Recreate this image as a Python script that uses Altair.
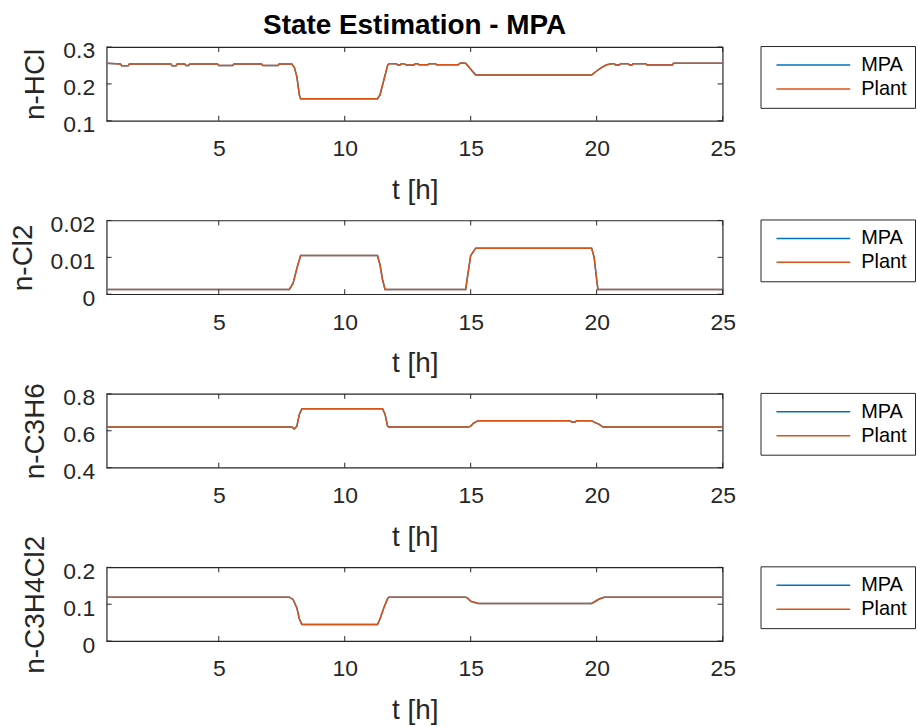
import altair as alt
import pandas as pd

# ---- data: time [h] and state trajectories (breakpoints of the sampled signals) ----
t_hcl = [0.55, 1.1, 1.15, 1.4, 1.45, 3.1, 3.15, 3.3, 3.35, 3.65, 3.7, 3.8, 3.85, 4.95, 5.0, 5.55, 5.6,
         6.7, 6.75, 7.35, 7.4, 7.9, 8.0, 8.1, 8.2, 8.25, 11.3, 11.4, 11.55, 11.7, 11.75, 12.05, 12.1,
         12.2, 12.25, 12.35, 12.45, 12.75, 12.8, 12.9, 12.95, 13.3, 13.35, 13.6, 13.65, 14.5, 14.6,
         14.8, 15.0, 15.2, 19.8, 20.0, 20.2, 20.4, 20.6, 20.7, 20.75, 20.9, 20.95, 21.25, 21.3, 21.4,
         21.45, 21.95, 22.0, 23.0, 23.05, 25.0]
v_hcl = [0.256, 0.254, 0.249, 0.249, 0.254, 0.254, 0.249, 0.249, 0.254, 0.254, 0.250, 0.250, 0.254,
         0.254, 0.250, 0.250, 0.254, 0.254, 0.250, 0.250, 0.254, 0.254, 0.245, 0.220, 0.170, 0.160,
         0.160, 0.170, 0.210, 0.250, 0.255, 0.255, 0.251, 0.251, 0.255, 0.255, 0.251, 0.251, 0.255,
         0.255, 0.252, 0.252, 0.255, 0.255, 0.252, 0.252, 0.257, 0.256, 0.240, 0.224, 0.224, 0.235,
         0.245, 0.252, 0.255, 0.255, 0.251, 0.251, 0.255, 0.255, 0.251, 0.251, 0.255, 0.255, 0.251,
         0.251, 0.256, 0.256]

t_cl2 = [0.55, 7.8, 7.95, 8.1, 8.25, 11.3, 11.4, 11.5, 11.6, 14.8, 14.9, 15.0, 15.2, 19.8, 19.9,
         20.0, 20.05, 25.0]
v_cl2 = [0.0013, 0.0013, 0.003, 0.007, 0.0105, 0.0105, 0.008, 0.004, 0.0013, 0.0013, 0.006, 0.0105,
         0.0125, 0.0125, 0.010, 0.004, 0.0013, 0.0013]

t_c3h6 = [0.55, 7.9, 8.0, 8.1, 8.2, 8.3, 11.5, 11.6, 11.7, 11.75, 14.9, 15.0, 15.1, 15.3, 18.95,
          19.0, 19.15, 19.2, 19.8, 19.9, 20.1, 20.25, 25.0]
v_c3h6 = [0.62, 0.62, 0.61, 0.625, 0.69, 0.72, 0.72, 0.69, 0.625, 0.62, 0.62, 0.625, 0.64, 0.655,
          0.655, 0.647, 0.647, 0.655, 0.655, 0.647, 0.635, 0.62, 0.62]

t_c3h4cl2 = [0.55, 7.8, 7.95, 8.1, 8.2, 8.3, 11.3, 11.4, 11.55, 11.7, 11.75, 14.8, 14.9, 15.0,
             15.3, 19.8, 19.9, 20.1, 20.3, 25.0]
v_c3h4cl2 = [0.119, 0.119, 0.113, 0.09, 0.06, 0.045, 0.045, 0.06, 0.09, 0.115, 0.119, 0.119, 0.115,
             0.108, 0.102, 0.102, 0.106, 0.114, 0.119, 0.119]

state_labels = ["n-HCl", "n-Cl2", "n-C3H6", "n-C3H4Cl2"]
y_ticks = [[0.1, 0.2, 0.3], [0, 0.01, 0.02], [0.4, 0.6, 0.8], [0, 0.1, 0.2]]
x_ticks = [5, 10, 15, 20, 25]
t_start, t_end = 0.55, 25
series_names = ["MPA", "Plant"]
series_colors = ["#0072BD", "#D95319"]

FONT = "Liberation Sans"
TXT = "#262626"
PW, PH = 618, 74
TICK = 5


def panel(t, v, label, yt, title=None):
    frames = [pd.DataFrame({"t": t, "v": v, "series": s}) for s in series_names]
    x = alt.X("t:Q", scale=alt.Scale(domain=[t_start, t_end], nice=False, zero=False),
              axis=alt.Axis(values=x_ticks, tickCount=len(x_ticks), title="t [h]", format="~g",
                            labelOverlap=False, labelFlush=False))
    y = alt.Y("v:Q", scale=alt.Scale(domain=[yt[0], yt[-1]], nice=False, zero=False),
              axis=alt.Axis(values=yt, tickCount=len(yt), title=label, format="~g",
                            labelOverlap=False, labelFlush=False, labelOffset=4))
    color = alt.Color("series:N",
                      scale=alt.Scale(domain=series_names, range=series_colors),
                      legend=alt.Legend(title=None, orient="none", legendX=656, legendY=-1,
                                        symbolType="stroke", symbolSize=74 * 74,
                                        symbolStrokeWidth=1.5, symbolOffset=7,
                                        labelFontSize=20, labelFont=FONT,
                                        labelColor="#000000", labelOffset=10,
                                        strokeColor=TXT, fillColor="white", padding=8,
                                        rowPadding=2, clipHeight=22))
    layers = [
        alt.Chart(frames[i]).mark_line(strokeWidth=1.5, clip=True).encode(x=x, y=y, color=color)
        for i in range(len(series_names))
    ]
    # inward-pointing tick marks on all four sides of the box
    xt = alt.Chart(pd.DataFrame({"t": x_ticks}))
    yv = alt.Chart(pd.DataFrame({"v": yt}))
    rule_style = dict(color=TXT, strokeWidth=1)
    layers += [
        xt.mark_rule(**rule_style).encode(x=x, y=alt.value(0), y2=alt.value(TICK)),
        xt.mark_rule(**rule_style).encode(x=x, y=alt.value(PH - TICK), y2=alt.value(PH)),
        yv.mark_rule(**rule_style).encode(y=y, x=alt.value(0), x2=alt.value(TICK)),
        yv.mark_rule(**rule_style).encode(y=y, x=alt.value(PW - TICK), x2=alt.value(PW)),
    ]
    ch = alt.layer(*layers).properties(width=PW, height=PH)
    if title:
        ch = ch.properties(title=alt.TitleParams(title, fontSize=28, fontWeight="bold", font=FONT,
                                                 color="#000000", anchor="middle", offset=0,
                                                 frame="group"))
    return ch.resolve_scale(color="shared")


panels = [
    panel(t_hcl, v_hcl, state_labels[0], y_ticks[0], "State Estimation - MPA"),
    panel(t_cl2, v_cl2, state_labels[1], y_ticks[1]),
    panel(t_c3h6, v_c3h6, state_labels[2], y_ticks[2]),
    panel(t_c3h4cl2, v_c3h4cl2, state_labels[3], y_ticks[3]),
]

chart = (
    alt.vconcat(*panels, spacing=100, bounds="flush")
    .resolve_scale(x="independent", y="independent", color="independent")
    .resolve_legend(color="independent")
    .properties(padding={"left": 8, "top": 10, "right": 0, "bottom": 0})
    .configure_view(stroke=TXT, strokeWidth=1.2)
    .configure_axis(domain=False, ticks=False, grid=False, labelFont=FONT, titleFont=FONT,
                    labelFontSize=23, titleFontSize=28, labelColor=TXT, titleColor=TXT,
                    titleFontWeight="normal")
    .configure_axisX(labelPadding=17, titlePadding=16)
    .configure_axisY(labelPadding=12, titlePadding=13)
)

chart.save("out.html", embed_options={"renderer": "svg", "actions": False})
